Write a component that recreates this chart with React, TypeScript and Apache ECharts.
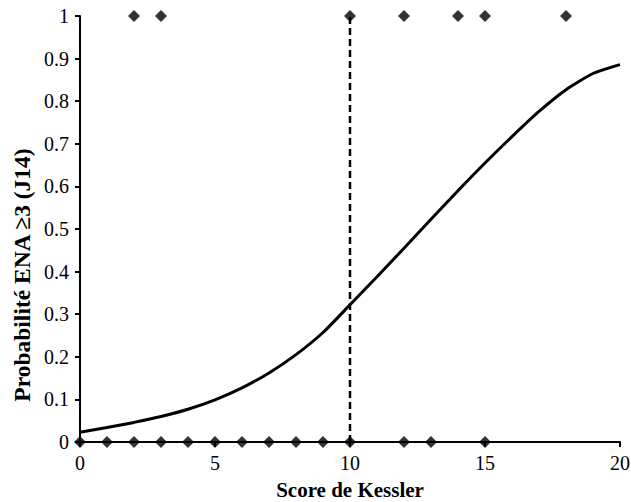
import React, { useEffect, useRef } from "react";
import * as echarts from "echarts";

const curveX = [0, 1, 2, 3, 4, 5, 6, 7, 8, 9, 10, 11, 12, 13, 14, 15, 16, 17, 18, 19, 20];
const curveY = [0.023, 0.034, 0.046, 0.06, 0.077, 0.099, 0.127, 0.162, 0.205, 0.257, 0.322, 0.388, 0.455, 0.523, 0.59, 0.655, 0.717, 0.776, 0.827, 0.865, 0.886];
const onesX = [2, 3, 10, 12, 14, 15, 18];
const zerosX = [0, 1, 2, 3, 4, 5, 6, 7, 8, 9, 10, 12, 13, 15];
const cutoff = 10;
const xTitle = "Score de Kessler";
const yTitle = "Probabilité ENA ≥3 (J14)";

export default function App() {
  const ref = useRef<HTMLDivElement>(null);
  useEffect(() => {
    const chart = echarts.init(ref.current!, null, { renderer: "svg" });
    const font = "Liberation Serif";
    chart.setOption({
      animation: false,
      backgroundColor: "#fff",
      textStyle: { fontFamily: font },
      grid: { left: 80, right: 11, top: 16, bottom: 60, outerBoundsMode: "none", containLabel: false },
      graphic: [
        {
          type: "text",
          x: 22,
          y: 275,
          rotation: Math.PI / 2,
          style: {
            text: yTitle,
            fontFamily: font,
            fontSize: 23.5,
            fontWeight: "bold",
            fill: "#000",
            textAlign: "center",
            textVerticalAlign: "middle",
          },
        },
      ],
      xAxis: {
        type: "value",
        min: 0,
        max: 20,
        interval: 5,
        name: xTitle,
        nameLocation: "middle",
        nameGap: 37,
        nameTextStyle: { fontFamily: font, fontSize: 21, fontWeight: "bold", color: "#000" },
        axisLine: { lineStyle: { color: "#000", width: 2 } },
        axisTick: { show: true, length: 5, lineStyle: { color: "#000", width: 2 } },
        axisLabel: { fontFamily: font, fontSize: 20, color: "#000", margin: 11 },
        splitLine: { show: false },
      },
      yAxis: {
        type: "value",
        min: 0,
        max: 1,
        interval: 0.1,
        axisLine: { show: true, lineStyle: { color: "#000", width: 2 } },
        axisTick: { show: true, length: 5, lineStyle: { color: "#000", width: 2 } },
        axisLabel: { fontFamily: font, fontSize: 20, color: "#000", margin: 11 },
        splitLine: { show: false },
      },
      series: [
        {
          type: "line",
          data: curveX.map((x, i) => [x, curveY[i]]),
          smooth: 0.2,
          showSymbol: false,
          lineStyle: { color: "#000", width: 3 },
          z: 3,
        },
        {
          type: "line",
          data: [[cutoff, 0], [cutoff, 1]],
          showSymbol: false,
          lineStyle: { color: "#000", width: 2.5, type: [7, 4] },
          z: 2,
        },
        {
          type: "scatter",
          data: onesX.map((x) => [x, 1]).concat(zerosX.map((x) => [x, 0])),
          symbol: "diamond",
          symbolSize: 12,
          itemStyle: { color: "#000" },
          clip: false,
          z: 4,
        },
      ],
    });
    return () => chart.dispose();
  }, []);
  return <div ref={ref} style={{ width: 631, height: 502, position: "absolute", left: 0, top: 0 }} />;
}
